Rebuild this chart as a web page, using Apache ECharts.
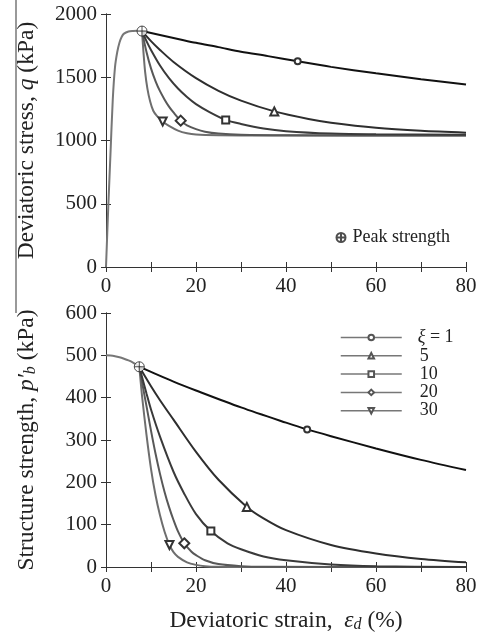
<!DOCTYPE html>
<html><head><meta charset="utf-8">
<script src="https://cdn.jsdelivr.net/npm/echarts@6/dist/echarts.min.js"></script>
<style>html,body{margin:0;padding:0;background:#fff}#c{width:482px;height:636px}</style>
</head><body><div id="c"></div>
<script>
// ---------- categories / legend ----------
const legendNames = ['ξ = 1', '5', '10', '20', '30'];
const xTicks = [0, 20, 40, 60, 80];

// ---------- top panel: deviatoric stress q (kPa) ----------
const riseStrain = [0, 0.5, 1, 1.5, 2, 2.5, 3, 3.5, 4, 5, 6, 7, 8];
const riseStress = [0, 470, 900, 1320, 1580, 1700, 1775, 1820, 1845, 1862, 1866, 1867, 1865];

const q1Strain = [8, 12, 16, 20, 25, 30, 36, 42.6, 50, 60, 70, 80];
const q1Stress = [1865, 1834, 1803, 1772, 1738, 1702, 1667, 1626, 1582, 1531, 1484, 1442];
const q5Strain = [8, 10, 12, 15, 20, 25, 30, 37.4, 45, 50, 60, 70, 80];
const q5Stress = [1865, 1786, 1716, 1621, 1493, 1393, 1315, 1230, 1170, 1141, 1101, 1077, 1062];
const q10Strain = [8, 9, 10, 12, 14, 16, 18, 20, 23, 26.6, 30, 35, 40, 50, 60, 80];
const q10Stress = [1865, 1786, 1716, 1593, 1493, 1411, 1344, 1288, 1225, 1163, 1131, 1095, 1074, 1055, 1049, 1046];
const q20Strain = [8, 9, 10, 11, 12, 13, 14, 15, 16.6, 18, 20, 22, 25, 30, 40, 80];
const q20Stress = [1865, 1700, 1570, 1470, 1390, 1325, 1268, 1222, 1157, 1120, 1090, 1070, 1055, 1045, 1041, 1040];
const q30Strain = [8, 8.3, 8.7, 9.2, 9.8, 10.5, 11.3, 12.6, 14, 16, 18, 20, 25, 30, 80];
const q30Stress = [1865, 1710, 1540, 1410, 1310, 1235, 1195, 1150, 1115, 1078, 1057, 1047, 1041, 1040, 1040];
const qMarkerIndex = [7, 7, 9, 8, 7];

const peakStrainTop = [8];
const peakStressTop = [1865];

// ---------- bottom panel: structure strength p'b (kPa) ----------
const initStrain = [0, 1, 2, 3, 4, 5, 6, 7, 7.4];
const initStruct = [500, 499.5, 498, 495.5, 492, 488, 483, 476.5, 473];

const p1Strain = [7.4, 10, 15, 20, 30, 40, 44.7, 50, 60, 70, 80];
const p1Struct = [473, 461, 438, 417, 377, 341, 325, 309, 280, 253, 229];
const p5Strain = [7.4, 10, 12, 15, 20, 25, 31.3, 35, 40, 50, 60, 70, 80];
const p5Struct = [473, 427, 394, 348, 272, 206, 142, 115, 87, 52, 32, 19, 11];
const p10Strain = [7.4, 9, 10, 12, 15, 17.3, 20, 23.3, 27, 30, 35, 40, 50, 60, 80];
const p10Struct = [473, 410, 372, 308, 225, 175, 125, 85, 56, 42, 25, 16, 6, 2, 0];
const p20Strain = [7.4, 8, 9, 10, 11, 12, 13, 14, 15, 16, 17.4, 19, 20, 22, 25, 30, 35, 80];
const p20Struct = [473, 437, 380, 322, 268, 220, 178, 142, 111, 84, 56, 36, 28, 16, 7, 2, 0.5, 0];
const p30Strain = [7.4, 8, 9, 10, 11, 12, 13, 14.1, 15, 16, 18, 20, 22, 25, 30, 80];
const p30Struct = [473, 405, 312, 232, 170, 122, 84, 52, 35, 24, 11, 5, 2, 0.5, 0, 0];
const pMarkerIndex = [6, 6, 7, 10, 7];

const peakStrainBottom = [7.4];
const peakStructBottom = [473];

// ---------- styling ----------
const SERIF = "'Liberation Serif', 'DejaVu Serif', serif";
const lineColors = ['#111111', '#2e2e2e', '#3a3a3a', '#585858', '#6e6e6e'];
const symbols = ['emptyCircle', 'emptyTriangle', 'emptyRect', 'emptyDiamond', 'emptyTriangle'];
const symbolSizes = [6, 8, 7, 10, 8];
const symbolRotates = [0, 0, 0, 0, 180];
const peakSymbol = 'path://M0,-10A10,10 0 1 1 0,10A10,10 0 1 1 0,-10ZM-10,0L10,0M0,-10L0,10';

function markedData(xs, ys, mi) {
  return xs.map((x, i) => i === mi ? [x, ys[i]] : { value: [x, ys[i]], symbol: 'none' });
}
function plain(xs, ys) { return xs.map((x, i) => [x, ys[i]]); }

const topSets = [[q1Strain, q1Stress], [q5Strain, q5Stress], [q10Strain, q10Stress], [q20Strain, q20Stress], [q30Strain, q30Stress]];
const botSets = [[p1Strain, p1Struct], [p5Strain, p5Struct], [p10Strain, p10Struct], [p20Strain, p20Struct], [p30Strain, p30Struct]];

const SMOOTH = 0.3;
const series = [];
series.push({ type: 'line', name: 'rise', xAxisIndex: 0, yAxisIndex: 0, data: plain(riseStrain, riseStress),
  smooth: SMOOTH, symbol: 'none', lineStyle: { color: '#777', width: 2 }, silent: true });
series.push({ type: 'line', name: 'init', xAxisIndex: 2, yAxisIndex: 2, data: plain(initStrain, initStruct),
  smooth: SMOOTH, symbol: 'none', lineStyle: { color: '#777', width: 2 }, silent: true });

function addSet(sets, markerIdx, xi, yi) {
  sets.forEach((s, k) => {
    series.push({
      type: 'line', name: legendNames[k], xAxisIndex: xi, yAxisIndex: yi,
      data: markedData(s[0], s[1], markerIdx[k]),
      smooth: SMOOTH, showSymbol: true, showAllSymbol: true,
      symbol: symbols[k], symbolSize: symbolSizes[k], symbolRotate: symbolRotates[k],
      lineStyle: { color: lineColors[k], width: 2 },
      itemStyle: { color: '#333', borderWidth: 1.2 },
      z: 3 + (5 - k), silent: true
    });
  });
}
addSet(topSets, qMarkerIndex, 0, 0);
addSet(botSets, pMarkerIndex, 2, 2);

series.push({ type: 'scatter', name: 'Peak strength', xAxisIndex: 0, yAxisIndex: 0,
  data: plain(peakStrainTop, peakStressTop), symbol: peakSymbol, symbolSize: 10,
  itemStyle: { color: '#fff', borderColor: '#222', borderWidth: 1 }, z: 10, silent: true });
series.push({ type: 'scatter', name: 'Peak strength', xAxisIndex: 2, yAxisIndex: 2,
  data: plain(peakStrainBottom, peakStructBottom), symbol: peakSymbol, symbolSize: 10,
  itemStyle: { color: '#fff', borderColor: '#222', borderWidth: 1 }, z: 10, silent: true });

const axisLineStyle = { show: true, lineStyle: { color: '#333', width: 1 } };
const tick = { show: true, inside: true, length: 5, lineStyle: { color: '#333', width: 1 } };
const labelStyle = { fontFamily: SERIF, fontSize: 21, color: '#222' };
const nameRich = {
  a: { fontFamily: SERIF, fontSize: 23.5, color: '#222' },
  i: { fontFamily: SERIF, fontSize: 23.5, fontStyle: 'italic', color: '#222' },
  s: { fontFamily: SERIF, fontSize: 16, fontStyle: 'italic', color: '#222', verticalAlign: 'bottom', padding: [6, 0, 0, 0] }
};

function xAxisMain(grid, name) {
  return {
    type: 'value', gridIndex: grid, min: 0, max: 80, interval: 10, position: 'bottom',
    axisLine: axisLineStyle, axisTick: tick, splitLine: { show: false },
    axisLabel: Object.assign({ margin: 9, formatter: v => xTicks.indexOf(v) >= 0 ? String(v) : '' }, labelStyle),
    name: name || '', nameLocation: 'middle', nameGap: 42,
    nameTextStyle: { fontFamily: SERIF, fontSize: 23, color: '#222', rich: nameRich }
  };
}
function xAxisTop(grid) {
  return { type: 'value', gridIndex: grid, min: 0, max: 80, interval: 10, position: 'top',
    axisLine: axisLineStyle, axisTick: tick, axisLabel: { show: false }, splitLine: { show: false } };
}
function yAxisMain(grid, max, interval, name) {
  return {
    type: 'value', gridIndex: grid, min: 0, max: max, interval: interval, position: 'left',
    axisLine: axisLineStyle, axisTick: tick, splitLine: { show: false },
    axisLabel: Object.assign({ margin: 9, formatter: v => String(v) }, labelStyle),
    name: name, nameLocation: 'middle', nameGap: 67,
    nameTextStyle: { fontFamily: SERIF, fontSize: 23.5, color: '#222', rich: nameRich }
  };
}
function yAxisRight(grid, max, interval) {
  return { type: 'value', gridIndex: grid, min: 0, max: max, interval: interval, position: 'right',
    axisLine: axisLineStyle, axisTick: tick, axisLabel: { show: false }, splitLine: { show: false } };
}

const option = {
  animation: false,
  backgroundColor: '#fff',
  grid: [
    { left: 106, top: 14, width: 360, height: 253 },
    { left: 106, top: 313, width: 360, height: 254 }
  ],
  xAxis: [
    xAxisMain(0), xAxisTop(0),
    xAxisMain(1, '{a|Deviatoric strain,  }{i|ε}{s|d}{a| (%)}'), xAxisTop(1)
  ],
  yAxis: [
    yAxisMain(0, 2000, 500, '{a|Deviatoric stress, }{i|q}{a| (kPa)}'), yAxisRight(0, 2000, 500),
    yAxisMain(1, 600, 100, '{a|Structure strength, }{i|p′}{s|b}{a| (kPa)}'), yAxisRight(1, 600, 100)
  ],
  legend: [
    {
      data: legendNames, orient: 'vertical', left: 340, top: 328.5, padding: 0,
      itemWidth: 61, itemHeight: 7, itemGap: 0.3,
      selectedMode: false,
      lineStyle: { color: '#777', width: 1.5 },
      itemStyle: { color: '#555' },
      formatter: function (name) { return name === 'ξ = 1' ? '{i|ξ}{n| = 1}' : '{p|' + name + '}'; },
      textStyle: {
        fontFamily: SERIF, fontSize: 18, color: '#222', lineHeight: 16,
        rich: {
          i: { fontFamily: SERIF, fontSize: 18, fontStyle: 'italic', color: '#222', padding: [0, 0, 0, 11], lineHeight: 16 },
          n: { fontFamily: SERIF, fontSize: 18, color: '#222', lineHeight: 16 },
          p: { fontFamily: SERIF, fontSize: 18, color: '#222', padding: [0, 0, 0, 13], lineHeight: 16 }
        }
      }
    },
    {
      data: ['Peak strength'], orient: 'vertical', left: 335.5, top: 228.5, padding: 0,
      itemWidth: 9, itemHeight: 9,
      selectedMode: false,
      textStyle: { fontFamily: SERIF, fontSize: 18, color: '#222', padding: [0, 0, 0, 2] }
    }
  ],
  graphic: [
    { type: 'line', shape: { x1: 16, y1: 0, x2: 16, y2: 313 }, style: { stroke: '#555', lineWidth: 1.2 }, silent: true }
  ],
  series: series
};

const chart = echarts.init(document.getElementById('c'), null, { renderer: 'canvas' });
chart.setOption(option);
</script>
</body></html>
